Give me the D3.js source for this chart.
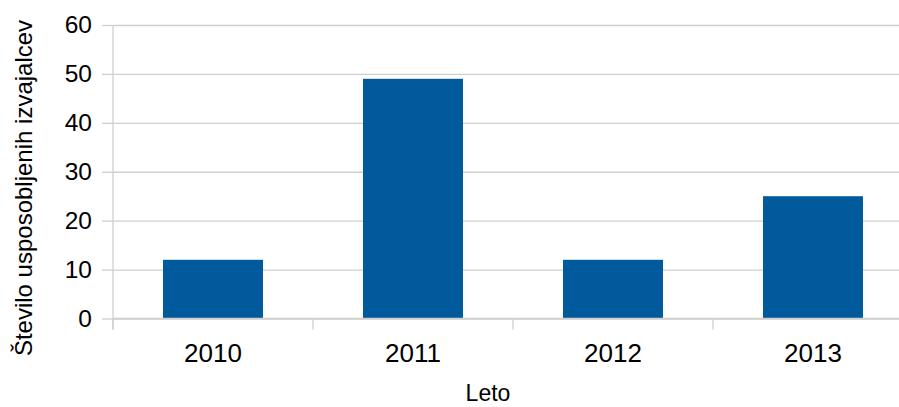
<!DOCTYPE html>
<html>
<head>
<meta charset="utf-8">
<script src="https://cdn.jsdelivr.net/npm/d3@7"></script>
<style>
  body { margin: 0; background: #fff; }
  svg { display: block; font-family: "Liberation Sans", Arial, sans-serif; }
</style>
</head>
<body>
<svg id="chart"></svg>
<script>
const years = ['2010', '2011', '2012', '2013'];
const counts = [12, 49, 12, 25];
const yTicks = [0, 10, 20, 30, 40, 50, 60];

const width = 899, height = 407;
const margin = {top: 25, left: 113};
const plotW = 800;
const plotH = 318.5 - margin.top;

const svg = d3.select('#chart')
    .attr('width', width)
    .attr('height', height);

const chart = svg.append('g')
    .attr('transform', `translate(${margin.left},${margin.top})`);

const x = d3.scaleBand()
    .domain(years)
    .range([0, plotW])
    .paddingInner(0.5)
    .paddingOuter(0.25);

const y = d3.scaleLinear()
    .domain([0, 60])
    .range([plotH, 0]);

// gridlines
chart.append('g')
    .attr('class', 'grid')
    .call(d3.axisLeft(y).tickValues(yTicks).tickSize(-plotW).tickFormat(''))
    .call(g => g.select('.domain').remove())
    .call(g => g.selectAll('line').attr('stroke', '#cfcfcf').attr('stroke-width', 1.3));

// y labels with outer stubs
chart.append('g')
    .attr('class', 'y-axis')
    .call(d3.axisLeft(y).tickValues(yTicks).tickSize(11).tickPadding(10))
    .call(g => g.select('.domain').remove())
    .call(g => g.selectAll('line').attr('stroke', '#cfcfcf').attr('stroke-width', 1.3))
    .call(g => g.selectAll('text')
        .attr('font-size', 24.5)
        .attr('fill', '#000')
        .attr('font-family', '"Liberation Sans", Arial, sans-serif'));

// bars
chart.selectAll('.bar')
    .data(years.map((d, i) => ({year: d, value: counts[i]})))
    .join('rect')
    .attr('class', 'bar')
    .attr('x', d => x(d.year))
    .attr('y', d => y(d.value))
    .attr('width', x.bandwidth())
    .attr('height', d => y(0) - y(d.value))
    .attr('fill', '#005a9b');

// x axis
const xAxisG = chart.append('g')
    .attr('class', 'x-axis')
    .attr('transform', `translate(0,${plotH})`)
    .call(d3.axisBottom(x).tickSize(0).tickPadding(25))
    .call(g => g.select('.domain').remove())
    .call(g => g.selectAll('text')
        .attr('font-size', 26)
        .attr('fill', '#000')
        .attr('font-family', '"Liberation Sans", Arial, sans-serif'));

// category boundary ticks
const bounds = years.map(d => x(d) - x.step() * x.paddingInner() / 2).concat([plotW]);
xAxisG.selectAll('.bound')
    .data(bounds)
    .join('line')
    .attr('class', 'bound')
    .attr('x1', d => d).attr('x2', d => d)
    .attr('y1', 0).attr('y2', 11)
    .attr('stroke', '#cfcfcf')
    .attr('stroke-width', 1.3);

// axis lines
chart.append('line')
    .attr('x1', 0).attr('x2', plotW)
    .attr('y1', y(0)).attr('y2', y(0))
    .attr('stroke', '#cfcfcf').attr('stroke-width', 1.3);
chart.append('line')
    .attr('x1', 0).attr('x2', 0)
    .attr('y1', 0).attr('y2', plotH + 11)
    .attr('stroke', '#cfcfcf').attr('stroke-width', 1.3);

// axis titles
svg.append('text')
    .attr('transform', 'translate(32,188) rotate(-90)')
    .attr('text-anchor', 'middle')
    .attr('font-size', 24)
    .text('Število usposobljenih izvajalcev');

svg.append('text')
    .attr('x', 488)
    .attr('y', 401)
    .attr('text-anchor', 'middle')
    .attr('font-size', 23)
    .text('Leto');
</script>
</body>
</html>
